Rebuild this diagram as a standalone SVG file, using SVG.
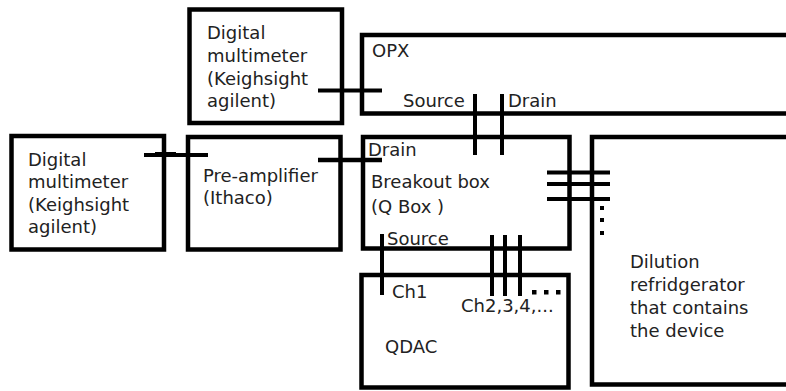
<svg xmlns="http://www.w3.org/2000/svg" width="786" height="391" viewBox="0 0 786 391">
<style>
.box{fill:none;stroke:#000;stroke-width:4.5;stroke-linejoin:miter}
.w{stroke:#000;stroke-width:4;fill:none}
.t{font-family:"DejaVu Sans",Verdana,sans-serif;font-size:18px;fill:#222}
.dot{fill:#000}
</style>
<rect width="786" height="391" fill="#fff"/>
<g id="dmm-top">
<rect class="box" x="189.5" y="9.5" width="152.5" height="113.5"/>
<text class="t" x="207" y="39">Digital</text>
<text class="t" x="207" y="62">multimeter</text>
<text class="t" x="207" y="85">(Keighsight</text>
<text class="t" x="207" y="107">agilent)</text>
</g>
<g id="dmm-left">
<rect class="box" x="11.5" y="136" width="152.5" height="113.5"/>
<text class="t" x="28" y="166">Digital</text>
<text class="t" x="28" y="188">multimeter</text>
<text class="t" x="28" y="211">(Keighsight</text>
<text class="t" x="28" y="233">agilent)</text>
</g>
<g id="preamp">
<rect class="box" x="188" y="137" width="152.5" height="112.5"/>
<text class="t" x="203" y="182">Pre-amplifier</text>
<text class="t" x="203" y="204">(Ithaco)</text>
</g>
<g id="opx">
<path class="box" d="M790 35 H362 V113.5 H790"/>
<text class="t" x="372" y="57">OPX</text>
<text class="t" x="403" y="107">Source</text>
<text class="t" x="508" y="107">Drain</text>
</g>
<g id="breakout">
<rect class="box" x="363" y="137" width="206.5" height="111.5"/>
<text class="t" x="368" y="156">Drain</text>
<text class="t" x="371" y="188">Breakout box</text>
<text class="t" x="371" y="213">(Q Box )</text>
<text class="t" x="387" y="245">Source</text>
</g>
<g id="qdac">
<rect class="box" x="361.5" y="275" width="207" height="112.5"/>
<text class="t" x="392" y="298">Ch1</text>
<text class="t" x="461" y="312">Ch2,3,4,...</text>
<text class="t" x="385" y="353">QDAC</text>
</g>
<g id="fridge">
<path class="box" d="M790 137 H592 V384.5 H790"/>
<text class="t" x="630" y="268">Dilution</text>
<text class="t" x="630" y="291">refridgerator</text>
<text class="t" x="630" y="314">that contains</text>
<text class="t" x="630" y="337">the device</text>
</g>
<g id="connectors">
<line class="w" x1="318" y1="90.5" x2="382" y2="90.5"/>
<line class="w" x1="144" y1="155" x2="208" y2="155"/>
<line class="w" x1="155" y1="154.5" x2="176" y2="154.5" style="stroke-width:5"/>
<line class="w" x1="318" y1="160" x2="382" y2="160" style="stroke-width:4.5"/>
<line class="w" x1="475" y1="94" x2="475" y2="155"/>
<line class="w" x1="502" y1="94" x2="502" y2="155"/>
<line class="w" x1="547" y1="172.5" x2="610" y2="172.5"/>
<line class="w" x1="547" y1="184" x2="610" y2="184"/>
<line class="w" x1="547" y1="199" x2="610" y2="199"/>
<rect class="dot" x="600" y="206" width="4" height="4"/>
<rect class="dot" x="600" y="218" width="4" height="4"/>
<rect class="dot" x="600" y="231" width="4" height="4"/>
<line class="w" x1="382" y1="234" x2="382" y2="295"/>
<line class="w" x1="492" y1="235" x2="492" y2="296"/>
<line class="w" x1="505" y1="235" x2="505" y2="296"/>
<line class="w" x1="520" y1="235" x2="520" y2="296"/>
<rect class="dot" x="532" y="290" width="4.5" height="4.5"/>
<rect class="dot" x="544" y="290" width="4.5" height="4.5"/>
<rect class="dot" x="556" y="290" width="4.5" height="4.5"/>
</g>
</svg>
